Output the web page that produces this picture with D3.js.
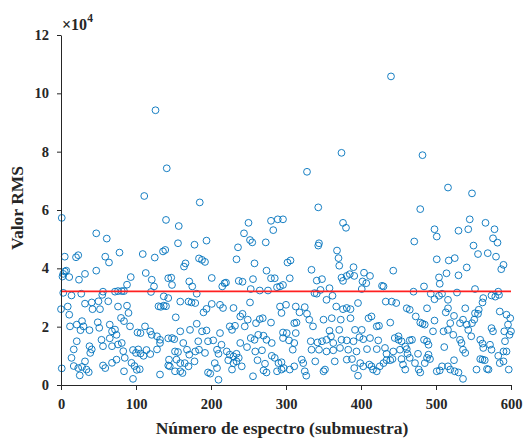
<!DOCTYPE html>
<html><head><meta charset="utf-8">
<script src="https://cdn.jsdelivr.net/npm/d3@7"></script>
<style>
html,body{margin:0;padding:0;background:#fff;}
svg text{font-family:"Liberation Serif","Times New Roman",serif;font-weight:bold;fill:#262626;}
</style></head>
<body><svg id="c" width="525" height="438"></svg>
<script>
// RMS value (x 10^4) per spectrum index (submuestra): [index, value]
const rmsPoints = [
[126,9.42],[440,10.58],
[141,7.43],[111,6.48],[1,5.73],[140,5.66],[47,5.2],[61,5.02],[5,4.4],[20,4.38],[23,4.45],[59,4.4],[64,4.2],[78,4.54],[109,4.49],[125,4.37],[136,4.58],[139,4.63],[5,3.89],[7,3.92],[3,3.81],[2,3.72],[11,3.7],[32,3.81],[47,3.92],[24,3.61],[93,3.7],[113,3.84],[121,3.61],[124,3.38],[88,3.44],[143,3.66],[3,3.16],[14,3.07],[27,3.13],[55,3.09],[56,3.2],[72,3.2],[76,3.22],[81,3.22],[84,3.22],[120,3.19],[137,3.04],[0,2.6],[9,2.69],[11,2.41],[32,2.79],[41,2.83],[42,2.6],[50,2.87],[52,2.6],[63,2.87],[76,2.69],[88,2.72],[90,2.47],[80,2.3],[84,2.19],[130,2.7],[133,2.68],[137,2.72],[140,2.7],[143,2.98],[12,2.01],[28,2.19],[30,2.01],[21,2.07],[26,1.88],[38,1.88],[49,2.15],[51,1.96],[65,2.07],[68,1.84],[72,1.9],[74,1.72],[92,2.01],[102,1.8],[106,1.78],[112,2.01],[119,1.84],[121,1.72],[128,1.67],[132,1.55],[143,1.6],[21,1.5],[17,1.22],[14,0.93],[17,0.65],[38,1.33],[41,1.22],[39,1.1],[54,1.55],[56,1.33],[65,1.6],[68,1.33],[76,1.39],[81,1.44],[83,1.16],[85,0.93],[96,1.2],[100,1.1],[103,1.22],[106,1.08],[110,1.0],[114,1.2],[119,1.06],[128,1.22],[132,1.44],[94,0.76],[98,0.65],[101,0.52],[105,0.54],[96,0.21],[1,0.57],[23,0.58],[28,0.62],[32,0.81],[34,0.53],[37,0.44],[25,0.33],[56,0.67],[59,0.58],[68,0.76],[74,0.87],[84,0.47],[132,0.36],[143,0.67],
[185,6.26],[157,5.45],[250,5.56],[280,5.63],[289,5.68],[296,5.68],[283,5.31],[244,5.2],[252,4.97],[255,4.89],[273,4.89],[156,4.86],[178,4.81],[194,4.95],[236,4.72],[184,4.34],[188,4.29],[192,4.22],[166,4.17],[164,4.06],[234,4.31],[258,4.17],[274,3.92],[147,3.68],[148,3.43],[171,3.55],[175,3.38],[181,3.13],[201,3.67],[218,3.49],[215,3.38],[220,3.51],[237,3.57],[242,3.54],[256,3.63],[253,3.29],[265,3.24],[276,3.24],[280,3.66],[285,3.66],[288,3.35],[292,3.38],[296,3.43],[159,2.86],[170,2.86],[174,2.83],[179,2.81],[201,2.78],[212,2.75],[216,2.64],[230,2.64],[252,2.83],[292,2.69],[294,2.47],[153,2.32],[190,2.49],[194,2.61],[242,2.44],[239,2.35],[249,2.24],[260,2.12],[265,2.26],[269,2.29],[280,2.14],[159,1.84],[172,1.89],[181,2.1],[188,1.84],[194,1.87],[212,1.78],[225,2.01],[228,1.89],[232,2.03],[245,2.01],[253,1.61],[258,1.55],[263,1.72],[270,1.69],[274,1.55],[281,1.44],[296,1.8],[148,1.61],[151,1.57],[163,1.44],[183,1.5],[196,1.5],[203,1.53],[214,1.38],[239,1.44],[248,1.3],[152,1.15],[156,1.13],[168,1.21],[171,1.04],[179,1.15],[184,1.21],[192,1.1],[208,1.21],[210,1.07],[221,1.15],[225,1.04],[230,0.98],[234,1.07],[237,0.93],[259,1.15],[268,1.19],[281,1.0],[285,0.93],[144,0.87],[154,0.87],[159,0.75],[165,0.75],[178,0.81],[205,0.75],[208,0.58],[223,0.85],[230,0.75],[234,0.81],[262,0.85],[272,0.73],[290,0.75],[145,0.64],[159,0.47],[170,0.64],[196,0.43],[199,0.39],[210,0.18],[228,0.53],[241,0.64],[256,0.3],[270,0.5],[274,0.43],[288,0.47],[294,0.53],[152,0.47],[162,0.41],
[374,7.96],[328,7.31],[343,6.09],[376,5.56],[380,5.39],[344,4.86],[343,4.78],[368,4.61],[370,4.35],[371,4.09],[302,4.2],[306,4.27],[334,3.95],[390,4.04],[443,3.92],[305,3.66],[341,3.58],[348,3.63],[374,3.68],[381,3.74],[385,3.8],[391,3.74],[404,3.85],[412,3.74],[376,3.57],[402,3.55],[407,3.49],[428,3.4],[430,3.38],[358,3.32],[346,3.26],[338,3.15],[341,3.13],[401,3.29],[362,3.06],[354,2.92],[300,2.75],[313,2.69],[318,2.49],[325,2.67],[328,2.44],[331,2.24],[367,2.69],[376,2.6],[381,2.64],[386,2.6],[396,2.81],[433,2.86],[441,2.86],[447,2.81],[350,2.24],[361,2.29],[373,2.24],[386,2.29],[410,2.29],[414,2.35],[311,2.12],[314,2.14],[336,2.01],[358,1.86],[371,1.89],[392,1.89],[401,1.89],[421,2.01],[424,2.03],[439,2.14],[301,1.78],[296,1.61],[313,1.78],[304,1.53],[311,1.44],[309,1.21],[333,1.5],[342,1.46],[348,1.5],[354,1.55],[360,1.67],[363,1.44],[374,1.55],[381,1.53],[390,1.5],[398,1.64],[403,1.57],[412,1.61],[423,1.53],[445,1.61],[450,1.67],[334,1.21],[344,1.21],[354,1.15],[363,1.19],[372,1.27],[383,1.21],[394,1.15],[408,1.23],[421,1.23],[432,1.27],[434,1.07],[443,1.15],[294,0.78],[297,0.58],[305,0.53],[311,0.64],[321,0.87],[323,0.75],[325,0.47],[327,0.32],[339,0.81],[350,0.47],[352,0.53],[365,0.81],[381,0.87],[388,0.89],[399,0.75],[403,0.64],[411,0.7],[414,0.64],[425,0.64],[430,0.75],[434,0.85],[439,0.85],[442,0.89],[391,0.58],[396,0.32],[416,0.53],[421,0.47],
[482,7.88],[516,6.77],[548,6.57],[479,6.03],[545,5.68],[566,5.56],[498,5.34],[501,5.09],[530,5.29],[543,5.34],[578,5.34],[576,5.03],[582,4.88],[471,4.92],[550,4.78],[556,4.49],[569,4.52],[580,4.4],[501,4.31],[517,4.27],[525,4.35],[541,4.03],[590,4.12],[587,3.97],[514,3.83],[530,3.76],[504,3.69],[505,3.47],[484,3.38],[470,3.2],[493,3.13],[498,2.94],[504,3.06],[508,3.13],[516,2.92],[528,3.17],[552,3.29],[563,2.98],[562,2.83],[574,3.07],[579,3.03],[583,3.2],[584,3.09],[461,2.63],[465,2.58],[473,2.35],[488,2.63],[513,2.49],[516,2.63],[524,2.37],[539,2.63],[552,2.46],[556,2.44],[557,2.58],[551,2.24],[548,2.12],[585,2.52],[594,2.41],[599,2.29],[596,2.07],[600,1.84],[479,2.14],[482,2.1],[485,2.07],[498,2.21],[519,2.12],[516,1.89],[532,2.12],[536,2.24],[541,2.07],[543,1.89],[574,1.95],[576,1.84],[591,1.84],[450,1.55],[454,1.5],[465,1.53],[459,1.32],[468,1.55],[484,1.55],[488,1.5],[490,1.38],[496,1.84],[510,1.84],[523,1.72],[532,1.55],[534,1.44],[536,1.21],[547,1.67],[559,1.55],[562,1.42],[572,1.38],[592,1.5],[598,1.72],[452,1.21],[461,1.23],[462,1.07],[476,1.07],[490,1.04],[488,0.93],[511,1.3],[539,1.1],[563,1.27],[574,1.21],[583,1.0],[590,1.15],[594,1.15],[454,0.89],[456,0.7],[459,0.53],[465,0.93],[472,0.75],[477,0.53],[479,0.43],[485,0.75],[492,0.89],[501,0.47],[505,0.5],[508,0.64],[516,0.64],[524,0.85],[525,0.47],[519,0.53],[530,0.43],[536,0.21],[554,0.53],[559,0.89],[562,0.87],[565,0.85],[570,0.53],[568,0.55],[585,0.75],[590,0.81],[597,0.53]
];
const thresholdValue = [3.21];
const xTicks = [0,100,200,300,400,500,600];
const yTicks = [0,2,4,6,8,10,12];
const xTitle = "Número de espectro (submuestra)";
const yTitle = "Valor RMS";

const svg = d3.select("#c");
const m = {l:61, r:14, t:35, b:53};
const W = 525, H = 438;
const x = d3.scaleLinear().domain([0,600]).range([m.l, W-m.r]);
const y = d3.scaleLinear().domain([0,12]).range([H-m.b, m.t]);

// points
svg.append("g").selectAll("circle").data(rmsPoints).join("circle")
  .attr("cx", d=>x(d[0])).attr("cy", d=>y(d[1])).attr("r", 3.4)
  .attr("fill","none").attr("stroke","#0072BD").attr("stroke-width",1).attr("stroke-opacity",0.9);

// threshold
svg.append("g").selectAll("line").data(thresholdValue).join("line")
  .attr("x1", x(0)).attr("x2", x(600))
  .attr("y1", d=>y(d)).attr("y2", d=>y(d))
  .attr("stroke","#ff2020").attr("stroke-width",1.6);

// axes
const gx = svg.append("g").attr("transform",`translate(0,${y(0)})`)
  .call(d3.axisBottom(x).tickValues(xTicks).tickSize(5).tickPadding(9).tickSizeOuter(0));
const gy = svg.append("g").attr("transform",`translate(${x(0)},0)`)
  .call(d3.axisLeft(y).tickValues(yTicks).tickSize(4).tickPadding(8).tickSizeOuter(0));
[gx,gy].forEach(g=>{
  g.selectAll("path,line").attr("stroke","#262626").attr("stroke-width",1);
  g.selectAll("text").attr("font-size",14.5).attr("font-family","Liberation Serif").attr("font-weight","bold").attr("fill","#262626");
});

// exponent label
const ex = svg.append("text").attr("x", 62).attr("y", 29.5).attr("font-size",16);
ex.append("tspan").text("×10");
ex.append("tspan").attr("dy",-8).attr("font-size",11.5).text("4");

// titles
svg.append("text").attr("x", (x(0)+x(600))/2 - 4).attr("y", 433.5).attr("text-anchor","middle")
  .attr("font-size",17.5).text(xTitle);
svg.append("text").attr("transform",`translate(23,${(y(0)+y(12))/2 - 2}) rotate(-90)`)
  .attr("text-anchor","middle").attr("font-size",17.5).text(yTitle);
</script></body></html>
